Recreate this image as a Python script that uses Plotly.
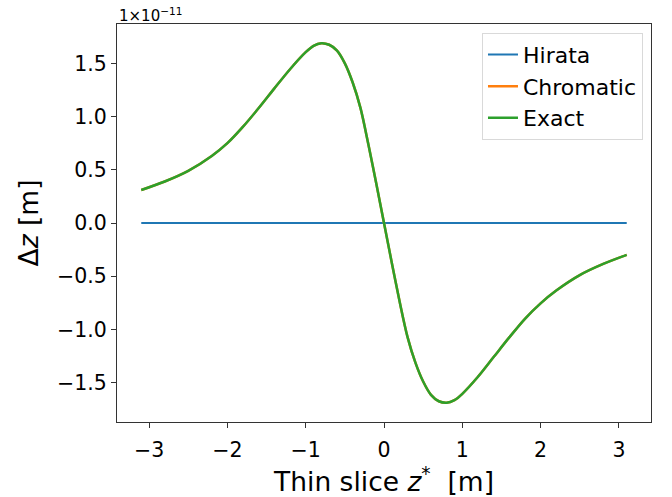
import plotly.graph_objects as go

# Thin-slice position z* [m]
z_star = [-3.1, -2.8, -2.5, -2.2, -2.0, -1.8, -1.6, -1.4, -1.2, -1.0, -0.9, -0.8,
          -0.7, -0.6, -0.5, -0.4, -0.3, -0.2, -0.1, 0.0,
          0.1, 0.2, 0.3, 0.4, 0.5, 0.6, 0.7, 0.8, 0.9, 1.0, 1.2, 1.4, 1.6, 1.8,
          2.0, 2.2, 2.5, 2.8, 3.1]

# Δz in units of 1e-11 m
dz_hirata = [0.0] * len(z_star)
dz_exact = [0.31, 0.39, 0.49, 0.63, 0.75, 0.905, 1.08, 1.265, 1.445, 1.605, 1.665, 1.69,
            1.675, 1.62, 1.50, 1.32, 1.08, 0.74, 0.375, 0.0,
            -0.375, -0.74, -1.07, -1.31, -1.49, -1.615, -1.675, -1.69, -1.665, -1.605,
            -1.445, -1.26, -1.075, -0.90, -0.755, -0.635, -0.49, -0.385, -0.30]
dz_chromatic = list(dz_exact)

x_ticks = [-3, -2, -1, 0, 1, 2, 3]
y_ticks = [-1.5, -1.0, -0.5, 0.0, 0.5, 1.0, 1.5]


def fmt(v, digits):
    s = f"{abs(v):.{digits}f}"
    return ("\u2212" + s) if v < 0 else s


FONT = "DejaVu Sans"

fig = go.Figure()
fig.add_trace(go.Scatter(x=z_star, y=dz_hirata, mode="lines", name="Hirata",
                         line=dict(color="#1f77b4", width=2)))
fig.add_trace(go.Scatter(x=z_star, y=dz_chromatic, mode="lines", name="Chromatic",
                         line=dict(color="#ff7f0e", width=2.5, shape="spline", smoothing=0.9)))
fig.add_trace(go.Scatter(x=z_star, y=dz_exact, mode="lines", name="Exact",
                         line=dict(color="#2ca02c", width=2.5, shape="spline", smoothing=0.9)))

axis_common = dict(
    showgrid=False, zeroline=False, showline=True, mirror=True,
    linecolor="#333333", linewidth=1.2,
    ticks="outside", ticklen=5, tickwidth=1.2, tickcolor="#333333",
    tickfont=dict(family=FONT, size=20.5, color="black"),
    automargin=False,
)

fig.update_layout(
    width=672, height=497,
    margin=dict(l=117, r=21, t=24, b=75),
    paper_bgcolor="white", plot_bgcolor="white",
    font=dict(family=FONT, color="black"),
    xaxis=dict(
        range=[-3.41, 3.41],
        tickvals=x_ticks, ticktext=[fmt(v, 0) for v in x_ticks],
        ticklabelstandoff=4,
        title=dict(text="Thin slice <i>z</i><sup>*</sup>  [m]",
                   font=dict(family=FONT, size=26.5), standoff=12),
        **axis_common,
    ),
    yaxis=dict(
        range=[-1.87, 1.87],
        tickvals=y_ticks, ticktext=[fmt(v, 1) for v in y_ticks],
        title=dict(text="Δ<i>z</i> [m]", font=dict(family=FONT, size=26.5), standoff=10),
        **axis_common,
    ),
    legend=dict(
        x=0.985, y=0.978, xanchor="right", yanchor="top",
        bgcolor="rgba(255,255,255,0.8)", bordercolor="#d9d9d9", borderwidth=1,
        font=dict(family=FONT, size=22, color="black"),
        tracegroupgap=0, itemwidth=30,
    ),
    showlegend=True,
)

fig.add_annotation(
    text="1×10<sup>−11</sup>", xref="paper", yref="paper", x=0, y=1,
    xanchor="left", yanchor="bottom", showarrow=False,
    font=dict(family=FONT, size=15, color="black"), yshift=-3,
)

fig.write_html("out.html")
